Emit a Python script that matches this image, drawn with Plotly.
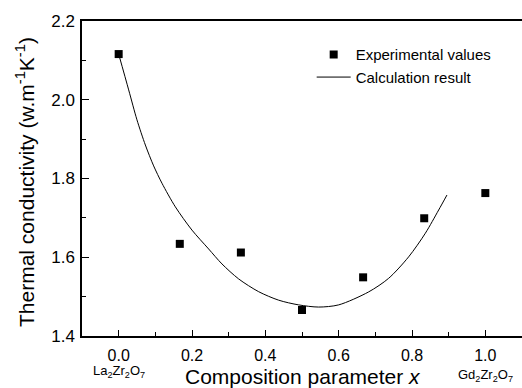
import plotly.graph_objects as go

# Experimental data
exp_x = [0.0, 0.1667, 0.3333, 0.5, 0.6667, 0.8333, 1.0]
exp_y = [2.116, 1.634, 1.612, 1.466, 1.549, 1.699, 1.763]

# Calculation result curve
calc_x = [0.0, 0.0273, 0.0499, 0.0728, 0.0954, 0.1181, 0.1546, 0.1999, 0.2454,
          0.2817, 0.3272, 0.3818, 0.4363, 0.4909, 0.5454, 0.6, 0.6818,
          0.7363, 0.7908, 0.8364, 0.8727, 0.8953]
calc_y = [2.116, 2.025, 1.949, 1.885, 1.832, 1.788, 1.728, 1.669, 1.621,
          1.583, 1.545, 1.5125, 1.491, 1.479, 1.4735, 1.479, 1.512,
          1.5465, 1.601, 1.661, 1.72, 1.758]

x_ticks = [0.0, 0.2, 0.4, 0.6, 0.8, 1.0]
x_ticktext = ["0.0", "0.2", "0.4", "0.6", "0.8", "1.0"]
y_ticks = [1.4, 1.6, 1.8, 2.0, 2.2]
y_ticktext = ["1.4", "1.6", "1.8", "2.0", "2.2"]

FONT = "Liberation Sans, Arial, sans-serif"

fig = go.Figure()
fig.add_trace(go.Scatter(x=exp_x, y=exp_y, mode="markers", name="Experimental values",
                         marker=dict(symbol="square", size=8, color="black")))
fig.add_trace(go.Scatter(x=calc_x, y=calc_y, mode="lines", name="Calculation result",
                         line=dict(color="black", width=1, shape="spline", smoothing=0.8)))

fig.update_layout(
    width=522, height=388,
    margin=dict(l=82, r=0, t=21, b=52),
    plot_bgcolor="white", paper_bgcolor="white",
    font=dict(family=FONT, color="black", size=16),
    showlegend=True,
    legend=dict(x=0.522, y=0.945, xanchor="left", yanchor="top",
                bgcolor="rgba(0,0,0,0)", font=dict(size=15, family=FONT),
                tracegroupgap=0, itemwidth=34),
    xaxis=dict(range=[-0.1, 1.1], tickvals=x_ticks, ticktext=x_ticktext,
               ticks="inside", ticklen=6, tickwidth=1, tickcolor="black",
               showline=True, linecolor="black", linewidth=1.5, mirror=True,
               showgrid=False, zeroline=False,
               minor=dict(tickvals=[-0.1, 0.1, 0.3, 0.5, 0.7, 0.9], ticks="inside", ticklen=4, tickcolor="black"),
               tickfont=dict(size=16), ticklabelstandoff=4),
    yaxis=dict(range=[1.4, 2.2], tickvals=y_ticks, ticktext=y_ticktext,
               ticks="inside", ticklen=7, tickwidth=1, tickcolor="black",
               showline=True, linecolor="black", linewidth=1.5, mirror=False,
               showgrid=False, zeroline=False,
               minor=dict(tickvals=[1.5, 1.7, 1.9, 2.1], ticks="inside", ticklen=4, tickcolor="black"),
               tickfont=dict(size=17), ticklabelstandoff=2),
)

fig.add_annotation(x=0.502, y=-0.127, xref="paper", yref="paper", xanchor="center", yanchor="middle",
                   showarrow=False, text="Composition parameter <i>x</i>", font=dict(size=21, family=FONT))
fig.add_annotation(x=-0.1295, y=0.489, xref="paper", yref="paper", xanchor="center", yanchor="middle",
                   showarrow=False, textangle=-90,
                   text="Thermal conductivity (w.m<sup>-1</sup>K<sup>-1</sup>)", font=dict(size=21, family=FONT))
fig.add_annotation(x=0.0, y=-0.078, xref="x", yref="paper", yanchor="top", showarrow=False,
                   text="La<sub>2</sub>Zr<sub>2</sub>O<sub>7</sub>", font=dict(size=13, family=FONT))
fig.add_annotation(x=1.0, y=-0.092, xref="x", yref="paper", yanchor="top", showarrow=False,
                   text="Gd<sub>2</sub>Zr<sub>2</sub>O<sub>7</sub>", font=dict(size=13, family=FONT))

fig.write_html("out.html")
